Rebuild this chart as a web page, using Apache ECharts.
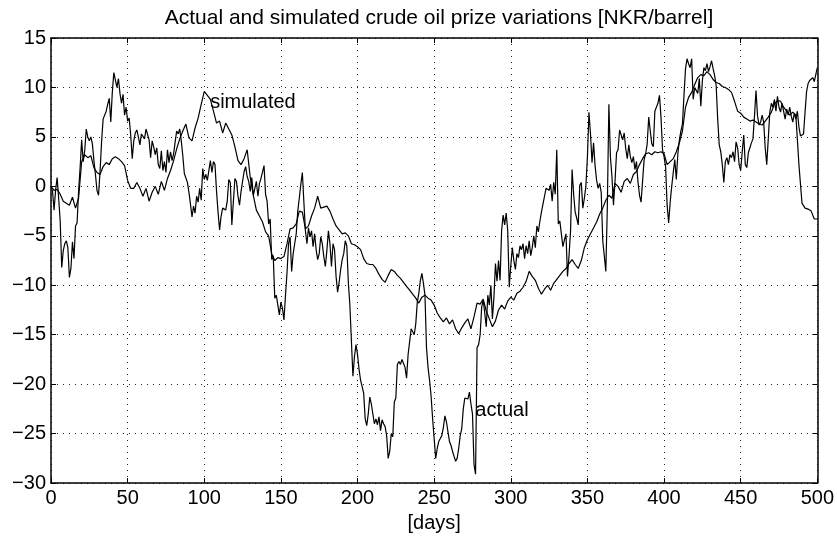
<!DOCTYPE html>
<html>
<head>
<meta charset="utf-8">
<title>Actual and simulated crude oil prize variations</title>
<script src="https://cdn.jsdelivr.net/npm/echarts@6/dist/echarts.min.js"></script>
<style>
  html, body { margin: 0; padding: 0; background: #fff; }
  #chart { width: 837px; height: 538px; }
</style>
</head>
<body>
<div id="chart"></div>
<script>
// actual price variation, one value per day (day 0 .. 500)
var actualValues = [
  0, -0.5, -2.4, -0.4, 0.9, -1.2, -3.5, -8.2, -6.5, -5.8, -5.5, -6.2, -9.2, -8.3, -5.6, -7.3, -4.0, -3.7, -0.5, 1.9,
  4.7, 2.5, 3.6, 5.8, 5.0, 4.6, 5.0, 4.3, 2.6, 1.2, -0.4, -0.9, 1.5, 4.5, 6.8, 7.2, 7.6, 8.3, 8.9, 6.5,
  9.5, 11.5, 11.4, 10.0, 10.9, 9.4, 8.4, 9.3, 7.2, 8.0, 6.6, 6.9, 5.2, 2.8, 4.6, 5.4, 5.7, 5.0, 4.2, 5.3,
  5.5, 4.8, 5.8, 5.6, 4.7, 2.9, 4.6, 4.0, 3.2, 3.9, 2.2, 1.8, 3.6, 1.6, 2.5, 1.4, 3.7, 2.4, 3.5, 2.6,
  3.3, 4.5, 5.6, 5.3, 5.8, 4.6, 3.1, 1.3, 1.5, 0.4, -0.6, -1.8, -3.1, -2.0, -2.7, -1.0, -1.6, -0.2, -1.4, 1.8,
  0.7, 1.2, 0.6, 1.6, 2.6, 1.4, 2.5, 2.2, -0.5, -2.6, -4.4, -3.0, -2.2, -2.0, -2.4, -1.5, 0.7, 0.4, -3.9, -1.5,
  0.8, 0.5, -1.0, -1.9, -0.5, 0.5, 1.5, 2.0, 1.0, 0.5, -0.5, 0.9, -0.9, -0.2, 0.5, -1.0, 0.3, 0.8, 0.9, 2.1,
  -0.8, -1.5, -3.8, -3.3, -7.4, -7.0, -11.3, -11.0, -12.0, -13.0, -11.7, -12.3, -13.5, -11.0, -8.7, -5.8, -5.1, -8.6, -6.8, -5.8,
  -4.8, -2.5, -1.2, 0.2, 1.4, -1.6, -4.5, -5.8, -4.2, -5.1, -4.5, -6.1, -4.8, -6.4, -7.4, -6.8, -5.1, -5.8, -7.1, -8.1,
  -6.5, -4.5, -5.8, -8.1, -5.8, -6.4, -9.1, -10.7, -9.7, -8.4, -7.4, -6.8, -5.5, -6.0, -9.7, -12.0, -15.6, -19.2, -17.2, -16.0,
  -17.0, -18.5, -19.6, -19.8, -20.9, -23.5, -24.2, -23.0, -21.3, -22.0, -22.2, -24.0, -23.5, -24.1, -23.3, -24.7, -23.6, -24.0, -24.3, -25.2,
  -27.5, -26.8, -25.0, -25.3, -21.8, -21.4, -18.0, -17.7, -18.0, -17.5, -17.6, -18.3, -19.4, -17.0, -15.7, -14.4, -14.2, -15.0, -13.9, -11.7,
  -10.8, -9.5, -8.8, -9.8, -11.0, -16.3, -18.3, -19.6, -21.2, -23.5, -25.5, -27.5, -26.5, -25.8, -25.5, -25.2, -24.4, -23.2, -23.8, -24.0,
  -25.8, -26.2, -26.8, -27.3, -27.8, -27.5, -26.5, -25.2, -24.5, -22.5, -21.4, -21.2, -21.5, -20.8, -22.0, -23.0, -28.1, -29.1, -16.3, -16.0,
  -15.0, -12.2, -11.5, -12.8, -14.2, -11.0, -12.0, -10.0, -13.4, -11.2, -7.8, -9.6, -7.5, -9.5, -4.5, -2.9, -3.9, -2.7, -4.5, -10.2,
  -8.0, -6.2, -7.5, -8.4, -6.8, -7.2, -6.0, -6.4, -5.8, -7.3, -6.0, -6.8, -5.5, -7.0, -6.2, -5.0, -6.2, -4.0, -4.6, -3.5,
  -2.6, -1.8, -1.0, -0.2, 0.0, -0.4, 0.2, -1.5, 0.4, -0.8, 3.7, -3.8, -3.5, -4.8, -6.1, -5.4, -4.8, -9.1, -7.0, -4.5,
  1.7, -0.8, -2.6, -3.2, -3.9, 0.1, 0.4, -2.2, -1.2, 0.0, 3.0, 7.5, 5.3, 2.4, 4.4, 2.1, 0.6, -0.2, 0.3, -0.6,
  -5.5, -7.0, -8.6, -2.0, 8.3, 3.0, 1.0, -1.9, 0.5, 3.4, 3.7, 5.7, 5.2, 4.7, 5.4, 3.8, 2.8, 4.2, 3.0, 2.4,
  3.0, 1.7, 2.5, 0.4, -0.9, -1.6, -1.4, 2.7, 3.3, 4.3, 7.0, 5.6, 4.3, 4.0, 7.6, 7.8, 8.4, 9.2, 7.0, 3.7,
  3.0, 2.0, -1.9, -3.7, -1.6, 0.0, 1.4, 2.7, 0.7, 3.3, 4.7, 5.6, 6.3, 9.2, 11.9, 12.9, 12.4, 12.0, 12.9, 8.8,
  10.0, 10.2, 9.4, 10.9, 8.1, 10.7, 12.0, 11.7, 12.4, 11.6, 12.1, 12.7, 11.9, 11.2, 10.2, 6.8, 4.2, 3.5, 2.2, 0.4,
  2.5, 2.9, 2.2, 3.2, 2.9, 3.5, 2.5, 4.5, 3.9, 2.2, 1.6, 3.5, 5.2, 2.2, 1.9, 3.4, 3.9, 4.4, 4.8, 7.1,
  9.7, 7.1, 6.2, 6.5, 7.2, 6.5, 3.9, 2.2, 4.8, 7.5, 8.4, 8.0, 8.8, 7.6, 9.1, 8.0, 7.5, 8.4, 7.6, 6.8,
  7.8, 7.2, 8.0, 7.1, 6.5, 7.4, 6.8, 7.6, 6.0, 5.1, 5.0, 5.3, 7.5, 9.6, 10.4, 10.7, 10.6, 11.0, 10.6, 10.4, 12.0
];

// simulated price variation, one value every 2 days (day 0, 2, ... 500)
var simStep = 2;
var simValues = [
  0, -0.4, -0.3, -0.8, -1.5, -1.7, -1.9, -1.1, -2.2, -1.2, 2.5, 3.2, 2.9, 3.1, 1.9, 1.4, 1.2, 2.0, 2.4, 2.2, 2.8, 3.0, 2.8, 2.5, 2.1,
  0.6, -0.2, -0.2, 0.4, -0.2, -1.0, -0.2, -1.5, -0.6, 0.0, -0.8, 0.5, -0.4, 0.8, 1.6, 2.6, 3.8, 4.8, 5.6, 6.3, 4.9, 4.6, 5.9, 6.9, 8.3,
  9.6, 9.2, 8.8, 7.6, 6.4, 6.6, 5.4, 6.4, 5.8, 5.2, 4.0, 2.6, 2.2, 2.8, 3.7, 0.9, -0.9, -2.4, -3.0, -3.6, -4.6, -5.0, -6.8, -7.5, -7.2,
  -7.3, -7.1, -5.8, -4.3, -4.2, -3.8, -2.5, -2.6, -4.3, -4.0, -3.0, -2.2, -1.0, -2.2, -2.1, -2.0, -2.5, -3.3, -4.0, -4.4, -4.8, -4.7, -5.0, -5.8, -5.9,
  -6.1, -6.4, -7.3, -7.8, -7.9, -7.9, -8.3, -8.9, -9.4, -9.7, -9.0, -8.4, -8.6, -9.0, -9.3, -9.7, -10.1, -10.5, -10.9, -11.3, -11.8, -11.2, -11.0, -11.3, -11.5,
  -12.0, -12.8, -13.3, -13.7, -13.3, -13.9, -13.5, -14.4, -14.9, -14.3, -13.8, -13.4, -14.4, -13.2, -11.8, -11.9, -11.4, -12.6, -13.4, -14.2, -13.6, -12.5, -12.0, -12.4, -11.6,
  -11.2, -11.5, -10.8, -10.6, -10.2, -9.6, -8.6, -9.1, -9.5, -10.3, -10.9, -10.4, -10.0, -10.5, -9.8, -9.4, -9.0, -8.6, -8.3, -7.8, -7.4, -7.9, -8.3, -7.5, -6.2,
  -5.4, -4.8, -4.2, -3.6, -2.8, -2.2, -1.4, -0.9, -1.2, 0.3, 0.0, -0.6, 0.5, 0.8, 0.3, 1.2, 1.5, 2.2, 2.8, 3.3, 3.4, 3.2, 3.5, 3.4, 3.5,
  3.3, 2.2, 2.5, 2.8, 3.5, 4.4, 5.6, 8.0, 9.0, 9.5, 10.3, 11.0, 11.3, 11.2, 11.6, 11.3, 10.8, 10.5, 10.4, 10.1, 10.0, 9.8, 9.5, 8.6, 7.6,
  7.4, 7.0, 6.8, 6.6, 6.7, 6.5, 6.3, 6.2, 6.6, 7.0, 7.5, 8.3, 8.7, 8.6, 8.0, 7.6, 7.2, 7.5, 7.2, 2.2, -1.7, -2.2, -2.3, -2.5, -3.3, -3.3
];

// text labels placed in data coordinates [day, value]
var labelTexts = ['simulated', 'actual'];
var labelDays = [103.5, 276.5];
var labelValues = [8.5, -22.7];

var titleText = 'Actual and simulated crude oil prize variations [NKR/barrel]';
var xName = '[days]';

var font = '"Liberation Sans", Arial, Helvetica, sans-serif';

var actualData = actualValues.map(function (v, i) { return [i, v]; });
var simData = simValues.map(function (v, i) { return [i * simStep, v]; });
var labelData = labelTexts.map(function (t, i) {
  return { value: [labelDays[i], labelValues[i]], label: { formatter: t } };
});

var myChart = echarts.init(document.getElementById('chart'));

var dotted = { color: '#222', width: 1, type: [1, 5] };
var frame = { show: true, onZero: false, lineStyle: { color: '#000', width: 1.5 } };
var tick = { show: true, inside: true, length: 5, lineStyle: { color: '#000' } };

var option = {
  animation: false,
  backgroundColor: '#fff',
  title: {
    text: titleText,
    left: 434,
    top: 3,
    textAlign: 'center',
    textStyle: { fontSize: 21, fontWeight: 'normal', color: '#000', fontFamily: font }
  },
  grid: { left: 51, right: 19, top: 38, bottom: 42, containLabel: false },
  xAxis: [
    {
      type: 'value', min: 0, max: 500, interval: 50,
      name: xName, nameLocation: 'middle', nameGap: 20,
      nameTextStyle: { fontSize: 20, color: '#000', fontFamily: font },
      axisLine: frame, axisTick: tick,
      axisLabel: { fontSize: 20, color: '#000', fontFamily: font, margin: 5 },
      splitLine: { show: true, lineStyle: dotted }
    },
    {
      type: 'value', position: 'top', min: 0, max: 500, interval: 50,
      axisLine: frame, axisTick: tick, axisLabel: { show: false }, splitLine: { show: false }
    }
  ],
  yAxis: [
    {
      type: 'value', min: -30, max: 15, interval: 5,
      axisLine: frame, axisTick: tick,
      axisLabel: {
        fontSize: 20, color: '#000', fontFamily: font, margin: 5,
        formatter: function (v) { return String(v).replace('-', '\u2212'); }
      },
      splitLine: { show: true, lineStyle: dotted }
    },
    {
      type: 'value', position: 'right', min: -30, max: 15, interval: 5,
      axisLine: frame, axisTick: tick, axisLabel: { show: false }, splitLine: { show: false }
    }
  ],
  series: [
    {
      name: 'actual', type: 'line', data: actualData,
      showSymbol: false, silent: true,
      lineStyle: { color: '#000', width: 1.2 }
    },
    {
      name: 'simulated', type: 'line', data: simData,
      showSymbol: false, silent: true,
      lineStyle: { color: '#000', width: 1.2 }
    },
    {
      // scatter items default to opacity 0.8, which greys the text
      type: 'scatter', data: labelData, symbolSize: 1, silent: true,
      itemStyle: { color: 'rgba(0,0,0,0)', opacity: 1 },
      label: {
        show: true, position: 'right', distance: 0, opacity: 1,
        color: '#000', fontSize: 20, fontFamily: font
      }
    }
  ]
};

myChart.setOption(option);
</script>
</body>
</html>
